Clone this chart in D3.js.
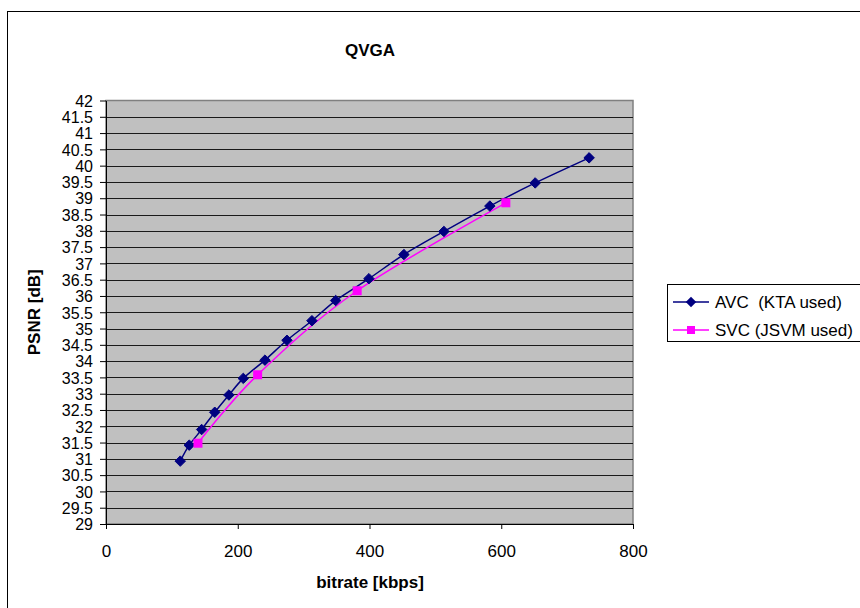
<!DOCTYPE html>
<html>
<head>
<meta charset="utf-8">
<script src="https://cdn.jsdelivr.net/npm/d3@7"></script>
<style>
  body { margin: 0; background: #fff; }
  text { font-family: "Liberation Sans", Arial, sans-serif; fill: #000; }
</style>
</head>
<body>
<script>
// chart values
var avcRate = [112.7, 126.4, 145.2, 165.1, 186.6, 208.4, 241.3, 274.7, 312.6, 348.6, 399.1, 452.2, 512.9, 582.7, 651.5, 733.4];
var avcPsnr = [30.93, 31.42, 31.90, 32.43, 32.96, 33.47, 34.03, 34.64, 35.24, 35.86, 36.53, 37.27, 37.98, 38.76, 39.47, 40.24];
var svcRate = [139.6, 230.2, 381.3, 607.0];
var svcPsnr = [31.48, 33.58, 36.16, 38.86];
var xTicks = [0, 200, 400, 600, 800];
var yTicks = d3.range(29, 42.01, 0.5);
var seriesNames = ["AVC\u00a0 (KTA used)", "SVC (JSVM used)"];
var seriesColors = ["#000080", "#ff00ff"];

var w = 860, h = 608;
var plotLeft = 106, plotRight = 633, plotTop = 100.5, plotBottom = 524;
var fontSize = "17px";

var svg = d3.select("body").append("svg")
    .attr("width", w)
    .attr("height", h);

// outer chart frame
svg.append("rect")
    .attr("x", 7.5).attr("y", 11.5)
    .attr("width", 870).attr("height", 610)
    .attr("fill", "#fff")
    .attr("stroke", "#000").attr("stroke-width", 1);

var x = d3.scaleLinear().domain([0, 800]).range([plotLeft, plotRight]);
var y = d3.scaleLinear().domain([29, 42]).range([plotBottom, plotTop]);

// plot area
svg.append("rect")
    .attr("x", plotLeft).attr("y", plotTop)
    .attr("width", plotRight - plotLeft).attr("height", plotBottom - plotTop)
    .attr("fill", "#c0c0c0")
    .attr("stroke", "#808080").attr("stroke-width", 1.5);

// gridlines
svg.append("g").selectAll("line")
    .data(yTicks.filter(function(d){ return d > 29 && d < 42; }))
    .enter().append("line")
    .attr("x1", plotLeft).attr("x2", plotRight)
    .attr("y1", function(d){ return Math.round(y(d)) + 0.5; })
    .attr("y2", function(d){ return Math.round(y(d)) + 0.5; })
    .attr("stroke", "#1a1a1a");

var yAxis = d3.axisLeft(y)
    .tickValues(yTicks)
    .tickSize(6)
    .tickSizeOuter(0)
    .tickFormat(d3.format("~g"));
var xAxis = d3.axisBottom(x)
    .tickValues(xTicks)
    .tickSize(5)
    .tickSizeOuter(0)
    .tickFormat(d3.format("d"));

var gy = svg.append("g")
    .attr("transform", "translate(" + plotLeft + ",0)")
    .call(yAxis);
gy.select(".domain").attr("stroke", "#000");
gy.selectAll("text").attr("font-size", "16px").attr("x", -13).attr("dy", "0.36em")
    .attr("font-family", "Liberation Sans, Arial, sans-serif");

var gx = svg.append("g")
    .attr("transform", "translate(0," + plotBottom + ")")
    .call(xAxis);
gx.select(".domain").attr("stroke", "#000");
gx.selectAll("text").attr("font-size", fontSize).attr("y", 21)
    .attr("font-family", "Liberation Sans, Arial, sans-serif");

// title and axis labels
svg.append("text")
    .attr("x", 370).attr("y", 56)
    .attr("text-anchor", "middle")
    .attr("font-size", fontSize).attr("font-weight", "bold")
    .text("QVGA");

svg.append("text")
    .attr("transform", "translate(40," + ((plotTop + plotBottom) / 2) + ") rotate(-90)")
    .attr("text-anchor", "middle")
    .attr("font-size", fontSize).attr("font-weight", "bold")
    .text("PSNR [dB]");

svg.append("text")
    .attr("x", 370).attr("y", 588)
    .attr("text-anchor", "middle")
    .attr("font-size", fontSize).attr("font-weight", "bold")
    .text("bitrate [kbps]");

// series
var line = d3.line()
    .x(function(d){ return x(d[0]); })
    .y(function(d){ return y(d[1]); })
    .curve(d3.curveCardinal.tension(0));

var avc = d3.zip(avcRate, avcPsnr);
var svc = d3.zip(svcRate, svcPsnr);

svg.append("path").datum(avc)
    .attr("d", line)
    .attr("fill", "none").attr("stroke", seriesColors[0]).attr("stroke-width", 1.5);
svg.append("path").datum(svc)
    .attr("d", line)
    .attr("fill", "none").attr("stroke", seriesColors[1]).attr("stroke-width", 1.5);

var diamond = d3.symbol().type(d3.symbolDiamond2).size(70);
svg.append("g").selectAll("path")
    .data(avc).enter().append("path")
    .attr("transform", function(d){ return "translate(" + x(d[0]) + "," + y(d[1]) + ")"; })
    .attr("d", diamond)
    .attr("fill", seriesColors[0]).attr("stroke", seriesColors[0]);

svg.append("g").selectAll("rect")
    .data(svc).enter().append("rect")
    .attr("x", function(d){ return x(d[0]) - 4.5; })
    .attr("y", function(d){ return y(d[1]) - 4.5; })
    .attr("width", 9).attr("height", 9)
    .attr("fill", seriesColors[1]);

// legend
var lg = svg.append("g").attr("transform", "translate(667,284)");
lg.append("rect")
    .attr("x", 0.5).attr("y", 0.5)
    .attr("width", 220).attr("height", 57)
    .attr("fill", "#fff").attr("stroke", "#000");

seriesNames.forEach(function(name, i){
    var ly = 18 + i * 28;
    lg.append("line")
        .attr("x1", 6).attr("x2", 42)
        .attr("y1", ly).attr("y2", ly)
        .attr("stroke", seriesColors[i]).attr("stroke-width", 1.5);
    if (i == 0) {
        lg.append("path")
            .attr("transform", "translate(24," + ly + ")")
            .attr("d", diamond)
            .attr("fill", seriesColors[0]);
    } else {
        lg.append("rect")
            .attr("x", 20).attr("y", ly - 4)
            .attr("width", 8).attr("height", 8)
            .attr("fill", seriesColors[1]);
    }
    lg.append("text")
        .attr("x", 48).attr("y", ly)
        .attr("dy", "0.36em")
        .attr("font-size", fontSize)
        .text(name);
});
</script>
</body>
</html>
